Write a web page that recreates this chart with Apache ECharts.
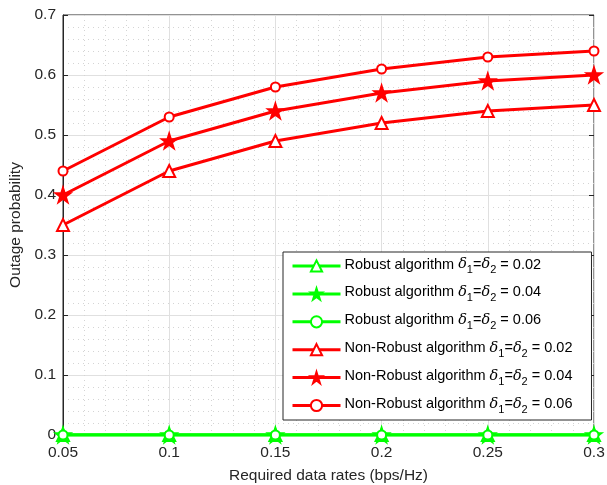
<!DOCTYPE html>
<html>
<head>
<meta charset="utf-8">
<script src="https://cdn.jsdelivr.net/npm/echarts@6/dist/echarts.min.js"></script>
<style>
  html, body { margin: 0; padding: 0; background: #fff; }
  #chart { width: 607px; height: 485px; }
</style>
</head>
<body>
<div id="chart"></div>
<script>
const rates = [0.05, 0.1, 0.15, 0.2, 0.25, 0.3]
const robust002 = [0, 0, 0, 0, 0, 0]
const robust004 = [0, 0, 0, 0, 0, 0]
const robust006 = [0, 0, 0, 0, 0, 0]
const nonRobust002 = [0.35, 0.44, 0.49, 0.52, 0.54, 0.55]
const nonRobust004 = [0.40, 0.49, 0.54, 0.57, 0.59, 0.60]
const nonRobust006 = [0.44, 0.53, 0.58, 0.61, 0.63, 0.64]

const star = 'path://M50,0 L61.8,36.2 L100,36.2 L69.1,58.8 L80.9,95.1 L50,72.7 L19.1,95.1 L30.9,58.8 L0,36.2 L38.2,36.2 Z'
const fontFamily = 'Liberation Sans, Arial, sans-serif'
const axisColor = '#262626'

const makeSeries = (name, values, color, symbol, size) => ({
  name,
  type: 'line',
  data: rates.map((r, i) => [r, values[i]]),
  symbol,
  symbolSize: size,
  showAllSymbol: true,
  lineStyle: { width: 3, color },
  itemStyle: { color, borderColor: color, borderWidth: 2.5 },
  emphasis: { disabled: true }
})

const names = [
  'Robust algorithm|0.02', 'Robust algorithm|0.04', 'Robust algorithm|0.06',
  'Non-Robust algorithm|0.02', 'Non-Robust algorithm|0.04', 'Non-Robust algorithm|0.06'
]

const chart = echarts.init(document.getElementById('chart'))
chart.setOption({
  animation: false,
  grid: {
    left: 63, right: 13, top: 15, bottom: 50,
    outerBoundsMode: 'none', containLabel: false,
    show: true, borderColor: axisColor, borderWidth: 1
  },
  xAxis: [{
    type: 'value', min: 0.05, max: 0.3, interval: 0.05,
    name: 'Required data rates (bps/Hz)', nameLocation: 'middle', nameGap: 33,
    nameTextStyle: { fontSize: 15.5, color: axisColor, fontFamily },
    axisLine: { show: true, lineStyle: { color: axisColor } },
    axisTick: { inside: true, length: 5, lineStyle: { color: axisColor } },
    axisLabel: { fontSize: 15.5, color: axisColor, fontFamily, margin: 10, formatter: v => String(+v.toFixed(2)) },
    splitLine: { show: true, lineStyle: { color: '#e0e0e0' } },
    minorTick: { show: false, splitNumber: 5 },
    minorSplitLine: { show: true, lineStyle: { color: '#d4d4d4', type: [1, 4] } }
  }, {
    type: 'value', position: 'top', min: 0.05, max: 0.3, interval: 0.05,
    axisLine: { show: false }, axisLabel: { show: false },
    axisTick: { inside: true, length: 5, lineStyle: { color: axisColor } },
    splitLine: { show: false }
  }],
  yAxis: [{
    type: 'value', min: 0, max: 0.7, interval: 0.1,
    name: 'Outage probability', nameLocation: 'middle', nameGap: 37,
    nameTextStyle: { fontSize: 15.5, color: axisColor, fontFamily },
    axisLine: { show: true, lineStyle: { color: axisColor } },
    axisTick: { show: true, inside: true, length: 5, lineStyle: { color: axisColor } },
    axisLabel: { fontSize: 15.5, color: axisColor, fontFamily, margin: 7, formatter: v => String(+v.toFixed(1)) },
    splitLine: { show: true, lineStyle: { color: '#e0e0e0' } },
    minorTick: { show: false, splitNumber: 5 },
    minorSplitLine: { show: true, lineStyle: { color: '#d4d4d4', type: [1, 4] } }
  }, {
    type: 'value', position: 'right', min: 0, max: 0.7, interval: 0.1,
    axisLine: { show: false }, axisLabel: { show: false },
    axisTick: { show: true, inside: true, length: 5, lineStyle: { color: axisColor } },
    splitLine: { show: false }
  }],
  legend: {
    orient: 'vertical',
    left: 283, top: 252,
    backgroundColor: '#fff',
    borderColor: axisColor, borderWidth: 1,
    padding: [5, 19, 5, 8],
    itemWidth: 48, itemHeight: 14, itemGap: 9.4,
    selectedMode: false,
    data: names,
    lineStyle: { width: 3 },
    formatter: n => {
      const [label, d] = n.split('|')
      return `{n|${label} }{i|δ}{s|1}{n|=}{i|δ}{s|2}{n| = ${d}}`
    },
    textStyle: {
      fontFamily, fontSize: 14.5, color: '#000', padding: [0, 0, 0, -1],
      rich: {
        n: { fontSize: 14.5, fontFamily, color: '#000', padding: [0, 0, 3, 0] },
        i: { fontSize: 14.5, fontFamily: 'DejaVu Serif, serif', fontStyle: 'italic', color: '#000', padding: [0, 0, 3, 0] },
        s: { fontSize: 11, fontFamily, color: '#000', verticalAlign: 'bottom', padding: [8, 0, 0, 0] }
      }
    }
  },
  series: [
    makeSeries(names[0], robust002, '#00ff00', 'emptyTriangle', 12),
    makeSeries(names[1], robust004, '#00ff00', star, 13),
    makeSeries(names[2], robust006, '#00ff00', 'emptyCircle', 9),
    makeSeries(names[3], nonRobust002, '#ff0000', 'emptyTriangle', 12),
    makeSeries(names[4], nonRobust004, '#ff0000', star, 13),
    makeSeries(names[5], nonRobust006, '#ff0000', 'emptyCircle', 9)
  ]
})
</script>
</body>
</html>
